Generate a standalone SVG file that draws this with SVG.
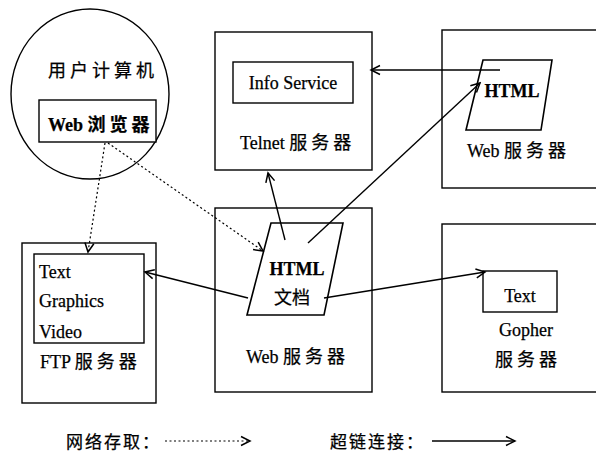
<svg xmlns="http://www.w3.org/2000/svg" width="596" height="454" viewBox="0 0 596 454">
  <defs>
    <marker id="arrow" viewBox="-10 -6 12 12" refX="0" refY="0" markerWidth="12" markerHeight="12" markerUnits="userSpaceOnUse" orient="auto">
      <path d="M -9 -4.5 L 0 0 L -9 4.5" fill="none" stroke="#000" stroke-width="1.5"/>
    </marker>
  </defs>
  <style>
    .box { fill: #fff; stroke: #000; stroke-width: 1.4; }
    .doc { fill: #fff; stroke: #000; stroke-width: 1.6; }
    .t { font-family: "Liberation Serif", "Noto Sans CJK SC", serif; font-size: 18px; fill: #000; stroke: #000; stroke-width: 0.25; }
    .b { font-weight: bold; }
    .cn { letter-spacing: 4px; }
    .lg { font-size: 17px; letter-spacing: 2px; }
    .link { fill: none; stroke: #000; stroke-width: 1.4; marker-end: url(#arrow); }
    .access { fill: none; stroke: #000; stroke-width: 1.2; stroke-dasharray: 2 2.5; marker-end: url(#arrow); }
  </style>

  <rect width="596" height="454" fill="#fff"/>

  <!-- user computer -->
  <g id="user-computer">
    <ellipse class="box" cx="90" cy="94" rx="79" ry="85"/>
    <text class="t cn" x="48" y="77">用户计算机</text>
    <rect class="box" x="39" y="100" width="117" height="42"/>
    <text class="t b" x="48" y="131">Web <tspan class="cn">浏览器</tspan></text>
  </g>

  <!-- telnet server -->
  <g id="telnet-server">
    <rect class="box" x="215" y="32" width="157" height="138"/>
    <rect class="box" x="233" y="62" width="120" height="41"/>
    <text class="t" x="293" y="89" text-anchor="middle">Info Service</text>
    <text class="t" x="240" y="149">Telnet <tspan class="cn">服务器</tspan></text>
  </g>

  <!-- web server (top right) -->
  <g id="web-server-top">
    <rect class="box" x="442" y="30" width="160" height="158"/>
    <polygon class="doc" points="483,60 552,60 541,130 466,130"/>
    <text class="t b" x="512" y="97" text-anchor="middle">HTML</text>
    <text class="t" x="467" y="157">Web <tspan class="cn">服务器</tspan></text>
  </g>

  <!-- ftp server -->
  <g id="ftp-server">
    <rect class="box" x="22" y="243" width="134" height="160"/>
    <rect class="box" x="34" y="254" width="110" height="89"/>
    <text class="t" x="39" y="278">Text</text>
    <text class="t" x="39" y="307">Graphics</text>
    <text class="t" x="39" y="338">Video</text>
    <text class="t" x="40" y="368">FTP <tspan class="cn">服务器</tspan></text>
  </g>

  <!-- web server (middle) -->
  <g id="web-server-mid">
    <rect class="box" x="215" y="208" width="157" height="184"/>
    <polygon class="doc" points="271,223 343,223 324,315 247,315"/>
    <text class="t b" x="297" y="275" text-anchor="middle">HTML</text>
    <text class="t" x="292" y="304" text-anchor="middle">文档</text>
    <text class="t" x="246" y="363">Web <tspan class="cn">服务器</tspan></text>
  </g>

  <!-- gopher server -->
  <g id="gopher-server">
    <rect class="box" x="442" y="224" width="160" height="168"/>
    <rect class="box" x="483" y="271" width="74" height="41"/>
    <text class="t" x="520" y="302" text-anchor="middle">Text</text>
    <text class="t" x="526" y="336" text-anchor="middle">Gopher</text>
    <text class="t cn" x="528" y="366" text-anchor="middle">服务器</text>
  </g>

  <!-- hyperlinks and network access -->
  <g id="connectors">
    <line class="link" x1="285" y1="240" x2="268" y2="173"/>
    <line class="link" x1="308" y1="243" x2="480" y2="83"/>
    <line class="link" x1="500" y1="70" x2="371" y2="70"/>
    <line class="link" x1="248" y1="298" x2="145" y2="272"/>
    <line class="link" x1="324" y1="298" x2="485" y2="272"/>
    <line class="access" x1="105" y1="143" x2="88" y2="252"/>
    <line class="access" x1="108" y1="143" x2="263" y2="251"/>
  </g>

  <!-- legend -->
  <g id="legend">
    <text class="t lg" x="66" y="448">网络存取：</text>
    <line class="access" x1="165" y1="441" x2="250" y2="441"/>
    <text class="t lg" x="330" y="448">超链连接：</text>
    <line class="link" x1="432" y1="441" x2="515" y2="441"/>
  </g>
</svg>
